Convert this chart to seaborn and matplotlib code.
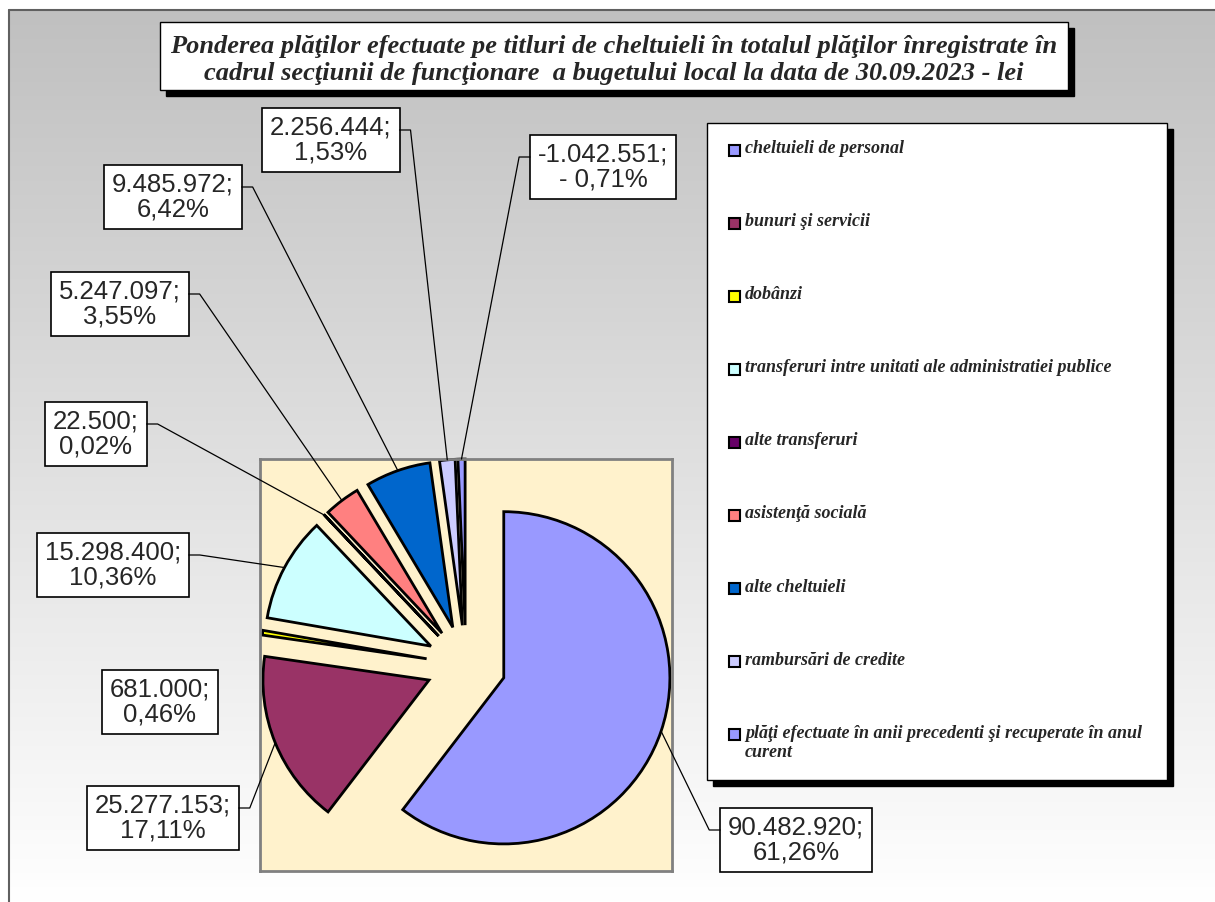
import numpy as np
import matplotlib
matplotlib.use("Agg")
import matplotlib.pyplot as plt
from matplotlib.patches import Rectangle
import seaborn as sns

sns.set_theme(style="white")

title = ("Ponderea plăţilor efectuate pe titluri de cheltuieli în totalul plăţilor înregistrate în\n"
         "cadrul secţiunii de funcţionare  a bugetului local la data de 30.09.2023 - lei")

categories = [
    "cheltuieli de personal",
    "bunuri şi servicii",
    "dobânzi",
    "transferuri intre unitati ale administratiei publice",
    "alte transferuri",
    "asistenţă socială",
    "alte cheltuieli",
    "rambursări de credite",
    "plăţi efectuate în anii precedenti şi recuperate în anul\ncurent",
]
values = [90482920, 25277153, 681000, 15298400, 22500, 5247097, 9485972, 2256444, -1042551]
colors = ["#9999FF", "#993366", "#FFFF00", "#CCFFFF", "#660066",
          "#FF8080", "#0066CC", "#CCCCFF", "#9999FF"]

# label box centres in image pixels (x from left, y from top)
label_pos = [(796, 840), (163, 818), (160, 702), (113, 565), (96, 434),
             (120, 304), (173, 197), (331, 140), (603, 167)]
show_leader = [True, True, False, True, True, True, True, True, True]

W, H = 1215, 902
serif = dict(fontfamily="Liberation Serif", fontweight="bold", fontstyle="italic")

fig = plt.figure(figsize=(W / 100, H / 100), dpi=100)

# background canvas in pixel units
bg = fig.add_axes([0, 0, 1, 1])
grad = np.linspace(192, 255, 400) / 255
img = np.repeat(grad[:, None, None], 3, axis=2)
bg.imshow(img, extent=[9, W, H, 10], aspect="auto", interpolation="bilinear", zorder=0)
bg.set_xlim(0, W)
bg.set_ylim(H, 0)
bg.axis("off")
bg.plot([9, W], [10, 10], color="#606060", lw=1.5, zorder=1)
bg.plot([9, 9], [10, H], color="#606060", lw=1.5, zorder=1)

# title box
bg.add_patch(Rectangle((166, 28), 908, 68, color="black", zorder=2))
bg.add_patch(Rectangle((160, 22), 908, 68, facecolor="white", edgecolor="black", lw=1, zorder=3))
bg.text(614, 60, title, ha="center", va="center", fontsize=19, linespacing=1.25, zorder=4, **serif)

# legend
bg.add_patch(Rectangle((713, 129), 460, 657, color="black", zorder=2))
bg.add_patch(Rectangle((707, 123), 460, 657, facecolor="white", edgecolor="black", lw=1, zorder=3))
for i, (name, col) in enumerate(zip(categories, colors)):
    y = 150 + i * 73.1
    bg.add_patch(Rectangle((729, y - 5.5), 11, 11, facecolor=col, edgecolor="black", lw=1.5, zorder=4))
    bg.text(745, y - 10, name, ha="left", va="top", fontsize=13, linespacing=1.15, zorder=4, **serif)

# pie
pax = fig.add_axes([260 / W, 1 - 871 / H, 412 / W, 412 / H])
wedges, _ = pax.pie(np.abs(values), colors=colors, startangle=90, counterclock=False,
                    explode=[0.24] * len(values),
                    wedgeprops=dict(edgecolor="black", linewidth=2))
pax.set_frame_on(True)
pax.set_facecolor("#FFF2CC")
pax.set_xlim(-1.24, 1.24)
pax.set_ylim(-1.24, 1.24)
pax.set_xticks([])
pax.set_yticks([])
for s in pax.spines.values():
    s.set_color("#808080")
    s.set_linewidth(2)

# data labels
total = sum(values)
texts = []
for v, (cx, cy) in zip(values, label_pos):
    pct = v / total * 100
    pct_str = f"{abs(pct):.2f}".replace(".", ",") + "%"
    if pct < 0:
        pct_str = "- " + pct_str
    lab = f"{v:,}".replace(",", ".") + ";\n" + pct_str
    t = bg.text(cx, cy, lab, ha="center", va="center", multialignment="center",
                fontsize=18.5, fontfamily="Liberation Sans", linespacing=1.05, zorder=5,
                bbox=dict(boxstyle="square,pad=0.3", facecolor="white", edgecolor="black", lw=1.2))
    texts.append(t)

fig.canvas.draw()
renderer = fig.canvas.get_renderer()
to_px = bg.transData.inverted()
for t, w, show, (cx, cy) in zip(texts, wedges, show_leader, label_pos):
    if not show:
        continue
    bb = t.get_bbox_patch().get_window_extent(renderer)
    mid = np.deg2rad((w.theta1 + w.theta2) / 2)
    end = to_px.transform(pax.transData.transform(
        (w.center[0] + w.r * np.cos(mid), w.center[1] + w.r * np.sin(mid))))
    if end[0] > cx:
        x0, x1 = bb.x1, bb.x1 + 11
    else:
        x0, x1 = bb.x0, bb.x0 - 11
    ys = cy - 10
    pax.plot([x0, x1, end[0]], [ys, ys, end[1]], color="black", lw=0.9,
             transform=bg.transData, clip_on=False, zorder=6)

fig.savefig("out.png", dpi=100)
